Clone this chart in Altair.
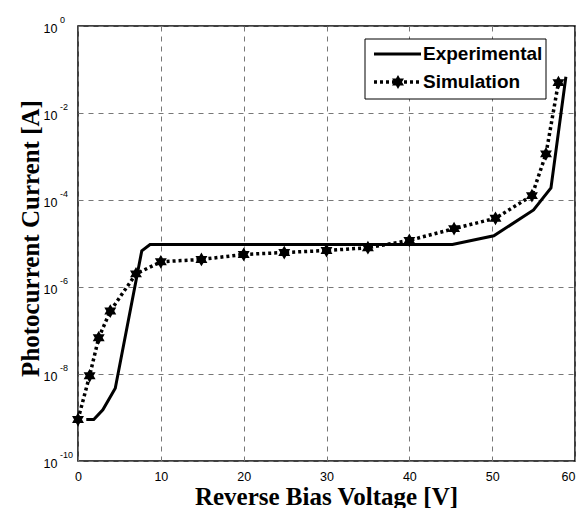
import altair as alt
import pandas as pd

# Experimental (solid line)
exp_v = [1.0, 1.9, 3.0, 4.5, 7.7, 8.7, 20.0, 30.0, 45.2, 50.2, 55.0, 57.1, 58.9]
exp_i = [9e-10, 9e-10, 1.5e-9, 4.7e-9, 6.8e-6, 9.5e-6, 9.5e-6, 9.5e-6, 9.5e-6, 1.5e-5, 5.9e-5, 1.9e-4, 6.8e-2]

# Simulation (dotted line with hexagram markers)
sim_v = [0.0, 1.4, 2.5, 3.9, 7.0, 10.0, 14.9, 20.0, 24.9, 30.0, 35.0, 40.0, 45.4, 50.4, 54.8, 56.5, 58.0]
sim_i = [9e-10, 9.1e-9, 6.8e-8, 2.8e-7, 2.0e-6, 3.8e-6, 4.3e-6, 5.6e-6, 6.2e-6, 6.9e-6, 8.0e-6, 1.18e-5,
         2.2e-5, 3.8e-5, 1.26e-4, 1.15e-3, 5.0e-2]

x_ticks = [0, 10, 20, 30, 40, 50, 60]
y_ticks = [1e-10, 1e-8, 1e-6, 1e-4, 1e-2, 1]
y_exponents = ["-10", "-8", "-6", "-4", "-2", "0"]
legend_labels = ["Experimental", "Simulation"]

exp_df = pd.DataFrame({"v": exp_v, "i": exp_i})
sim_df = pd.DataFrame({"v": sim_v, "i": sim_i})
exp_tick_df = pd.DataFrame({"i": y_ticks, "e": y_exponents})
one = pd.DataFrame({"k": [0]})

HEX = ("M0,-1L0.2887,-0.5L0.866,-0.5L0.5774,0L0.866,0.5L0.2887,0.5L0,1"
       "L-0.2887,0.5L-0.866,0.5L-0.5774,0L-0.866,-0.5L-0.2887,-0.5Z")

y_scale = alt.Scale(type="log", domain=[1e-10, 1], nice=False)

x_enc = alt.X("v:Q", scale=alt.Scale(domain=[0, 60], nice=False, zero=False),
              axis=alt.Axis(values=x_ticks, title="Reverse Bias Voltage [V]", format="d",
                            labelFont="Liberation Sans", labelFontSize=12.5, labelColor="black",
                            labelAlign={"condition": {"test": "datum.value == 60", "value": "right"},
                                        "value": "center"},
                            labelPadding=9, tickSize=0, ticks=False, domain=False,
                            grid=True, gridDash=[5, 5], gridColor="#777777", gridWidth=1,
                            titleFont="Liberation Serif", titleFontWeight="bold",
                            titleFontSize=25, titleColor="black",
                            titleX=248, titleY=43, titleBaseline="alphabetic"))
y_enc = alt.Y("i:Q", scale=y_scale,
              axis=alt.Axis(values=y_ticks, title="Photocurrent Current [A]", labelExpr="'10'",
                            labelFont="Liberation Sans", labelFontSize=12.5, labelColor="black",
                            labelAlign="left", labelBaseline="middle", labelOffset=2,
                            labelPadding=35, tickSize=0, ticks=False, domain=False,
                            grid=True, gridDash=[5, 5], gridColor="#777777", gridWidth=1,
                            titleFont="Liberation Serif", titleFontWeight="bold",
                            titleFontSize=25, titleColor="black",
                            titleX=-48, titleY=212, titleBaseline="middle", titleAngle=-90,
                            titleAlign="center"))

exp_line = alt.Chart(exp_df).mark_line(color="black", strokeWidth=3).encode(x=x_enc, y=y_enc)
sim_line = alt.Chart(sim_df).mark_line(color="black", strokeWidth=3.5, strokeDash=[3, 3]).encode(
    x="v:Q", y="i:Q")
sim_pts = alt.Chart(sim_df).mark_point(shape=HEX, filled=True, color="black", size=190,
                                       opacity=1).encode(x="v:Q", y="i:Q")

exp_txt = alt.Chart(exp_tick_df).mark_text(font="Liberation Sans", fontSize=9, align="left",
                                           baseline="middle", color="black", dy=-6).encode(
    x=alt.value(-18), y=alt.Y("i:Q", scale=y_scale), text="e:N")

leg_box = alt.Chart(one).mark_rect(fill="white", stroke="black", strokeWidth=1).encode(
    x=alt.value(287), x2=alt.value(468), y=alt.value(13), y2=alt.value(73))
leg_l1 = alt.Chart(one).mark_rule(color="black", strokeWidth=3).encode(
    x=alt.value(296), x2=alt.value(343), y=alt.value(28))
leg_l2 = alt.Chart(one).mark_rule(color="black", strokeWidth=3.5, strokeDash=[3, 3]).encode(
    x=alt.value(296), x2=alt.value(343), y=alt.value(56))
leg_pt = alt.Chart(one).mark_point(shape=HEX, filled=True, color="black", size=190, opacity=1).encode(
    x=alt.value(320), y=alt.value(56))
leg_t1 = alt.Chart(one).mark_text(text=legend_labels[0], font="Liberation Sans", fontWeight="bold",
                                  fontSize=19, align="left", baseline="middle", color="black").encode(
    x=alt.value(345), y=alt.value(28))
leg_t2 = alt.Chart(one).mark_text(text=legend_labels[1], font="Liberation Sans", fontWeight="bold",
                                  fontSize=19, align="left", baseline="middle", color="black").encode(
    x=alt.value(345), y=alt.value(56))

chart = alt.layer(exp_line, sim_line, sim_pts, exp_txt, leg_box, leg_l1, leg_l2, leg_pt,
                  leg_t1, leg_t2).properties(
    width=497, height=435,
    autosize=alt.AutoSizeParams(type="none"),
    padding={"left": 70, "top": 18, "right": 1, "bottom": 47},
    background="white",
).configure_view(stroke="black", strokeWidth=1.5)

chart.save("out.html", embed_options={"renderer": "svg", "actions": False})
